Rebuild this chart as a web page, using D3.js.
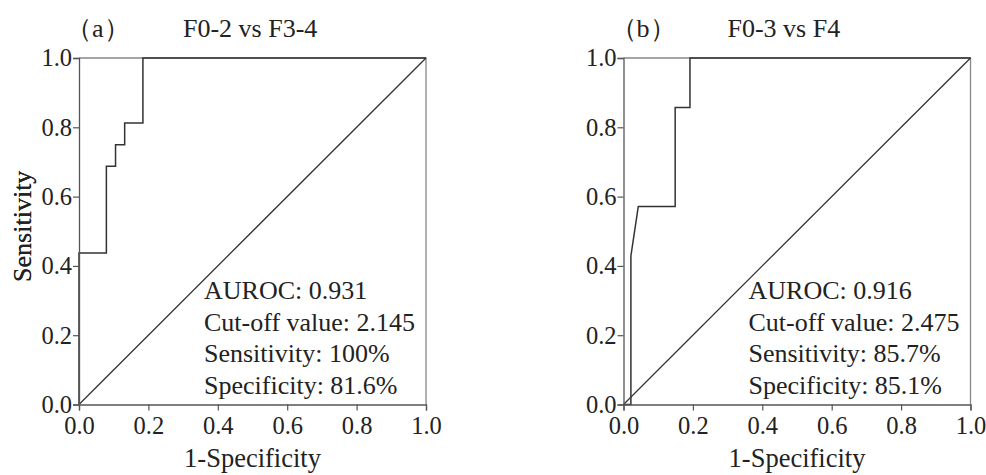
<!DOCTYPE html>
<html>
<head>
<meta charset="utf-8">
<script src="https://cdn.jsdelivr.net/npm/d3@7"></script>
<style>
  body { margin: 0; background: #fff; }
  svg text { font-family: "Liberation Serif", "Times New Roman", serif; fill: #222; }
</style>
</head>
<body>
<div class="canvas"></div>
<script>
// panel (a): F0-2 vs F3-4, ROC points as [1-specificity, sensitivity]
const rocA = [[0, 0], [0, 0.4375], [0.0789, 0.4375], [0.0789, 0.6875], [0.1053, 0.6875], [0.1053, 0.75],
  [0.1316, 0.75], [0.1316, 0.8125], [0.1842, 0.8125], [0.1842, 1], [1, 1]];
// panel (b): F0-3 vs F4
const rocB = [[0, 0], [0.0213, 0], [0.0213, 0.4286], [0.0426, 0.5714], [0.1489, 0.5714], [0.1489, 0.8571],
  [0.1915, 0.8571], [0.1915, 1], [1, 1]];
const panelTags = ['（a）', '（b）'];
const panelTitles = ['F0-2 vs F3-4', 'F0-3 vs F4'];
const statsA = ['AUROC: 0.931', 'Cut-off value: 2.145', 'Sensitivity: 100%', 'Specificity: 81.6%'];
const statsB = ['AUROC: 0.916', 'Cut-off value: 2.475', 'Sensitivity: 85.7%', 'Specificity: 85.1%'];
const tickValues = [0, 0.2, 0.4, 0.6, 0.8, 1.0];

const svg = d3.select('.canvas')
  .append('svg')
    .attr('width', 986)
    .attr('height', 475);

const graphWidth = 347;
const graphHeight = 346.5;
const graphTop = 58;

function drawPanel(left, roc, tag, title, stats) {
  const x = d3.scaleLinear().domain([0, 1]).range([0, graphWidth]);
  const y = d3.scaleLinear().domain([0, 1]).range([graphHeight, 0]);

  const graph = svg.append('g')
    .attr('transform', `translate(${left}, ${graphTop})`);

  // frame on top and right
  graph.append('path')
    .attr('d', `M${x(0)},${y(1)}H${x(1)}V${y(0)}`)
    .attr('fill', 'none')
    .attr('stroke', '#888')
    .attr('stroke-width', 1.3);

  // reference diagonal
  graph.append('line')
    .attr('x1', x(0)).attr('y1', y(0))
    .attr('x2', x(1)).attr('y2', y(1))
    .attr('stroke', '#333')
    .attr('stroke-width', 1.3);

  // ROC curve
  const line = d3.line()
    .x(d => x(d[0]))
    .y(d => y(d[1]));
  graph.append('path')
    .datum(roc)
    .attr('fill', 'none')
    .attr('stroke', '#333')
    .attr('stroke-width', 1.5)
    .attr('d', line);

  const xAxis = d3.axisBottom(x).tickValues(tickValues).tickSize(6).tickPadding(1).tickFormat(d3.format('.1f'));
  const yAxis = d3.axisLeft(y).tickValues(tickValues).tickSize(6).tickPadding(1).tickFormat(d3.format('.1f'));

  const xAxisGroup = graph.append('g')
    .attr('transform', `translate(0, ${graphHeight})`)
    .call(xAxis);
  const yAxisGroup = graph.append('g')
    .call(yAxis);

  [xAxisGroup, yAxisGroup].forEach(g => {
    g.select('.domain').attr('stroke', '#555').attr('stroke-width', 1.3);
    g.selectAll('.tick line').attr('stroke', '#555').attr('stroke-width', 1.2);
    g.selectAll('text')
      .attr('font-family', '"Liberation Serif", serif')
      .attr('font-size', 24.5)
      .attr('fill', '#222');
  });
  xAxisGroup.selectAll('text').attr('dy', '0.9em');

  // axis titles
  graph.append('text')
    .attr('x', graphWidth / 2)
    .attr('y', graphHeight + 62)
    .attr('text-anchor', 'middle')
    .attr('font-size', 26.5)
    .text('1-Specificity');

  graph.append('text')
    .attr('transform', `translate(${-left + 22 + 9}, ${graphHeight / 2 - 5}) rotate(-90)`)
    .attr('text-anchor', 'middle')
    .attr('font-size', 26)
    .text('Sensitivity');

  // panel tag and title
  graph.append('text')
    .attr('x', -13)
    .attr('y', 37 - graphTop)
    .attr('font-family', '"Liberation Serif", "Noto Sans CJK SC", serif')
    .attr('font-size', 26)
    .text(tag);
  graph.append('text')
    .attr('x', 104)
    .attr('y', 37 - graphTop)
    .attr('font-size', 26)
    .text(title);

  // stats block
  graph.append('g')
    .selectAll('text')
    .data(stats)
    .enter()
    .append('text')
      .attr('x', 125)
      .attr('y', (d, i) => 299 - graphTop + i * 31.7)
      .attr('font-size', 26)
      .text(d => d);
}

drawPanel(79, rocA, panelTags[0], panelTitles[0], statsA);
drawPanel(623.5, rocB, panelTags[1], panelTitles[1], statsB);
</script>
</body>
</html>
